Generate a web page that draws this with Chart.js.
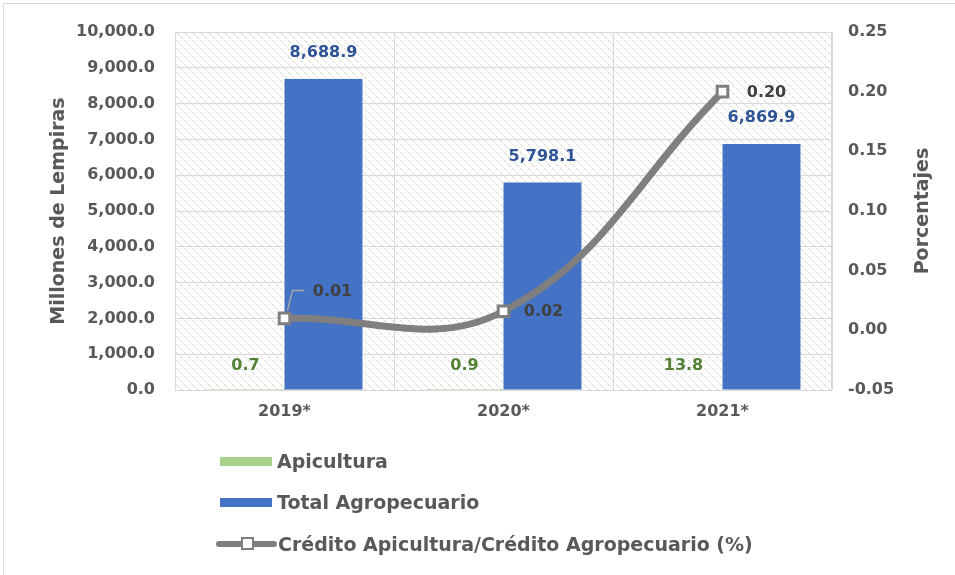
<!DOCTYPE html>
<html>
<head>
<meta charset="utf-8">
<script src="https://cdn.jsdelivr.net/npm/chart.js@4.4.1/dist/chart.umd.min.js"></script>
<style>
  html, body { margin: 0; padding: 0; background: #fff; overflow: hidden; }
  #wrap { position: relative; width: 955px; height: 575px; }
  #frame { position: absolute; left: 3px; top: 3px; width: 1000px; height: 1000px; border: 1px solid #d9d9d9; box-sizing: border-box; }
  #chart { position: absolute; left: 0; top: 0; }
  .lg { position: absolute; left: 216px; font: bold 19px "DejaVu Sans", Verdana, sans-serif; color: #595959; display: flex; align-items: center; white-space: nowrap; }
  .sw { display: inline-block; width: 52px; height: 9px; margin: 0 5px 0 4px; }
  .ln { position: relative; display: inline-block; width: 61px; height: 6px; background: #7f7f7f; border-radius: 3px; margin-right: 1px; }
  .ln i { position: absolute; left: 25px; top: -4px; width: 9px; height: 9px; background: #fff; border: 2px solid #7f7f7f; }
</style>
</head>
<body>
<div id="wrap">
  <div id="frame"></div>
  <canvas id="chart" width="955" height="575"></canvas>
  <div class="lg" style="top:450px"><span class="sw" style="background:#a9d18e"></span>Apicultura</div>
  <div class="lg" style="top:491px"><span class="sw" style="background:#4472c4"></span>Total Agropecuario</div>
  <div class="lg" style="top:533px"><span class="ln"><i></i></span>Crédito Apicultura/Crédito Agropecuario (%)</div>
</div>
<script>
/* data */
var years = ["2019*", "2020*", "2021*"];
var apicultura = [0.7, 0.9, 13.8];
var totalAgro = [8688.9, 5798.1, 6869.9];
var ratio = [0.01, 0.016, 0.20];
var ratioLabels = ["0.01", "0.02", "0.20"];

var FONT = "'DejaVu Sans', Verdana, sans-serif";
var AXIS_C = "#595959";
var GRID_C = "#d9d9d9";

function fmt1(v) {
  return v.toLocaleString("en-US", { minimumFractionDigits: 1, maximumFractionDigits: 1 });
}

/* hatch pattern for plot background */
function hatch() {
  var c = document.createElement("canvas");
  c.width = 8; c.height = 8;
  var x = c.getContext("2d");
  x.fillStyle = "#fff";
  x.fillRect(0, 0, 8, 8);
  x.fillStyle = "#d6d6d6";
  for (var i = 0; i < 8; i++) {
    if (i % 4 === 3) continue;
    x.fillRect(i, i, 1, 1);
  }
  return x.createPattern(c, "repeat");
}

var ctx = document.getElementById("chart").getContext("2d");
var pat = hatch();

var bgPlugin = {
  id: "plotBg",
  beforeDraw: function(chart) {
    var a = chart.chartArea, c = chart.ctx;
    c.save();
    c.fillStyle = pat;
    c.fillRect(a.left, a.top, a.right - a.left, a.bottom - a.top);
    c.restore();
  },
  beforeDatasetsDraw: function(chart) {
    var a = chart.chartArea, c = chart.ctx;
    c.save();
    c.strokeStyle = GRID_C;
    c.lineWidth = 1;
    c.strokeRect(a.left + 0.5, a.top + 0.5, a.right - a.left - 1, a.bottom - a.top);
    c.restore();
  }
};

var labelPlugin = {
  id: "labels",
  afterDatasetsDraw: function(chart) {
    var c = chart.ctx;
    c.save();
    c.textAlign = "center";
    c.textBaseline = "middle";
    c.font = "bold 16px " + FONT;
    // bar labels
    chart.getDatasetMeta(0).data.forEach(function(el, i) {
      c.fillStyle = "#548235";
      c.fillText(fmt1(apicultura[i]), el.x, el.y - 24);
    });
    chart.getDatasetMeta(1).data.forEach(function(el, i) {
      c.fillStyle = "#2f5597";
      c.fillText(fmt1(totalAgro[i]), el.x, el.y - 26);
    });
    // line labels
    var offs = [[48, -27], [40, 1], [44, 1]];
    c.fillStyle = "#404040";
    chart.getDatasetMeta(2).data.forEach(function(el, i) {
      c.fillText(ratioLabels[i], el.x + offs[i][0], el.y + offs[i][1]);
    });
    // leader line for first label
    var p = chart.getDatasetMeta(2).data[0];
    c.strokeStyle = "#a6a6a6";
    c.lineWidth = 1.5;
    c.beginPath();
    c.moveTo(p.x + 3, p.y - 8);
    c.lineTo(p.x + 8, p.y - 28);
    c.lineTo(p.x + 20, p.y - 28);
    c.stroke();
    // right axis title (reads bottom-to-top)
    var a = chart.chartArea;
    c.translate(923, (a.top + a.bottom) / 2);
    c.rotate(-Math.PI / 2);
    c.font = "bold 19px " + FONT;
    c.fillStyle = AXIS_C;
    c.fillText("Porcentajes", 0, 0);
    c.restore();
  }
};

new Chart(ctx, {
  type: "bar",
  data: {
    labels: years,
    datasets: [
      { label: "Apicultura", data: apicultura, backgroundColor: "#a9d18e", yAxisID: "y", order: 2,
        categoryPercentage: 0.712, barPercentage: 1 },
      { label: "Total Agropecuario", data: totalAgro, backgroundColor: "#4472c4", yAxisID: "y", order: 2,
        categoryPercentage: 0.712, barPercentage: 1 },
      { type: "line", label: "Crédito Apicultura/Crédito Agropecuario (%)", data: ratio, yAxisID: "y1", order: 1,
        borderColor: "#7f7f7f", borderWidth: 7, tension: 0.4, pointStyle: "rect", pointRadius: 7.5,
        pointBackgroundColor: "#fff", pointBorderColor: "#7f7f7f", pointBorderWidth: 3, borderCapStyle: "round" }
    ]
  },
  options: {
    responsive: false, animation: false, devicePixelRatio: 1,
    layout: { padding: { left: 44, right: 18, top: 32, bottom: 145 } },
    plugins: { legend: { display: false }, tooltip: { enabled: false } },
    scales: {
      x: {
        grid: { offset: true, color: GRID_C, drawTicks: false },
        border: { display: false },
        ticks: { color: AXIS_C, font: { family: FONT, size: 16, weight: "bold" }, padding: 12 },
        afterFit: function(s) { s.height = 40; }
      },
      y: {
        position: "left", min: 0, max: 10000,
        grid: { color: GRID_C, drawTicks: false },
        border: { display: false },
        ticks: { stepSize: 1000, color: AXIS_C, padding: 20, font: { family: FONT, size: 16, weight: "bold" },
          callback: function(v) { return fmt1(v); } },
        title: { display: true, text: "Millones de Lempiras", color: AXIS_C, font: { family: FONT, size: 19, weight: "bold" } },
        afterFit: function(s) { s.width = 131; }
      },
      y1: {
        position: "right", min: -0.05, max: 0.25,
        grid: { display: false, drawTicks: false },
        border: { display: false },
        ticks: { stepSize: 0.05, color: AXIS_C, padding: 16, font: { family: FONT, size: 16, weight: "bold" },
          callback: function(v) { return Math.abs(v) < 1e-9 ? "0.00" : v.toFixed(2); } },
        afterFit: function(s) { s.width = 105; }
      }
    }
  },
  plugins: [bgPlugin, labelPlugin]
});
</script>
</body>
</html>
